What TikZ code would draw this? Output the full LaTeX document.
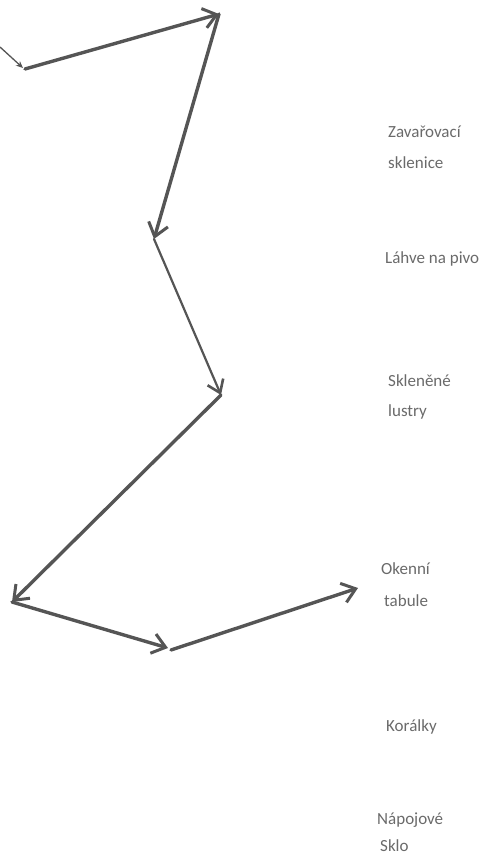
\documentclass[tikz,border=0pt]{standalone}
\usepackage{fontspec}
\setmainfont{Carlito}
\usetikzlibrary{arrows.meta}
\definecolor{ink}{HTML}{555555}
\definecolor{txt}{HTML}{6A6A6A}
\tikzset{
  conn/.style={draw=ink, line width=3.4pt, line cap=round,
    -{Straight Barb[length=13pt,width=20pt,line width=3pt]}},
  thinconn/.style={draw=ink, line width=2.2pt, line cap=round,
    -{Straight Barb[length=12pt,width=17pt,line width=2.6pt]}},
  tinyconn/.style={draw=ink, line width=1.3pt,
    -{Stealth[length=7pt,width=6pt]}},
  lbl/.style={text=txt, font=\fontsize{17}{20}\selectfont, anchor=base west, inner sep=0pt}
}
\begin{document}
\begin{tikzpicture}[x=1pt,y=-1pt]
\useasboundingbox (0,0) rectangle (481,855);
\coordinate (p0) at (0,47);
\coordinate (p1e) at (23,68);
\coordinate (p1) at (25,69);
\coordinate (p2) at (219,14);
\coordinate (p3) at (154,239);
\coordinate (p4) at (221,395);
\coordinate (p5) at (12,602);
\coordinate (p6) at (168,648);
\coordinate (p6s) at (171,650);
\coordinate (p7) at (358,588);
\draw[tinyconn] (p0) -- (p1e);
\draw[conn] (p1) -- (p2);
\draw[conn] (p2) -- (p3);
\draw[thinconn] (p3) -- (p4);
\draw[conn] (p4) -- (p5);
\draw[conn] (p5) -- (p6);
\draw[conn] (p6s) -- (p7);
\node[lbl] (t1a) at (388,137) {Zavařovací};
\node[lbl] (t1b) at (388,168) {sklenice};
\node[lbl] (t2) at (385,263) {Láhve na pivo};
\node[lbl] (t3a) at (388,386) {Skleněné};
\node[lbl] (t3b) at (388,416) {lustry};
\node[lbl] (t4a) at (381,574) {Okenní};
\node[lbl] (t4b) at (384,606) {tabule};
\node[lbl] (t5) at (386,731) {Korálky};
\node[lbl] (t6a) at (377,824) {Nápojové};
\node[lbl] (t6b) at (380,851) {Sklo};
\end{tikzpicture}
\end{document}
